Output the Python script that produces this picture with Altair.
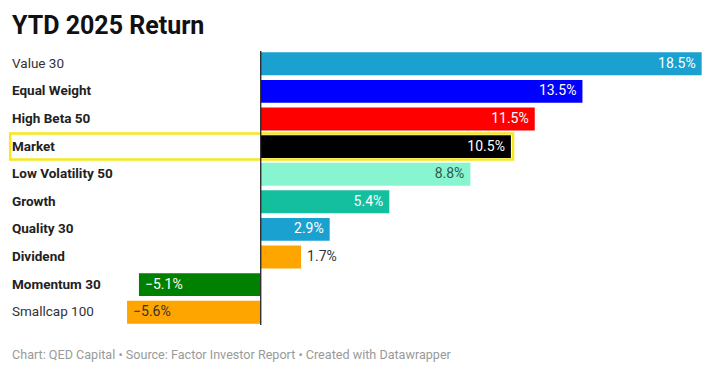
import altair as alt
import pandas as pd

names = ["Value 30", "Equal Weight", "High Beta 50", "Market", "Low Volatility 50",
         "Growth", "Quality 30", "Dividend", "Momentum 30", "Smallcap 100"]
values = [18.5, 13.5, 11.5, 10.5, 8.8, 5.4, 2.9, 1.7, -5.1, -5.6]
bold = [False, True, True, True, True, True, True, True, True, False]
bar_colors = ["#1aa1cf", "#0000ff", "#ff0000", "#000000", "#86f5d0",
              "#14bfa0", "#1aa1cf", "#ffa500", "#008000", "#ffa500"]
label_colors = ["#ffffff", "#ffffff", "#ffffff", "#ffffff", "#2f5a4e",
                "#ffffff", "#ffffff", "#333333", "#ffffff", "#333333"]
highlight = "Market"
title_text = "YTD 2025 Return"
footer_text = "Chart: QED Capital \u2022 Source: Factor Investor Report \u2022 Created with Datawrapper"

def fmt(v):
    s = f"{abs(v):.1f}%"
    return ("\u2212" + s) if v < 0 else s

df = pd.DataFrame({
    "name": names,
    "value": values,
    "bold": bold,
    "label": [fmt(v) for v in values],
})

W, H = 696, 276
FONT = "Roboto"

xscale = alt.Scale(domain=[-10.55, 18.64], nice=False)
yenc = alt.Y("name:N", sort=names, axis=None,
             scale=alt.Scale(paddingInner=0.17, paddingOuter=0.085))

base = alt.Chart(df)

bars = base.mark_bar().encode(
    x=alt.X("value:Q", scale=xscale, axis=None),
    y=yenc,
    color=alt.Color("name:N", scale=alt.Scale(domain=names, range=bar_colors), legend=None),
)

zero_rule = base.mark_rule(color="#333333", strokeWidth=1).encode(
    x=alt.datum(0),
    y=alt.value(1),
    y2=alt.value(H - 1),
)

hl = base.transform_filter(alt.datum.name == highlight).transform_calculate(
    left="-10.5", right="datum.value + 0.09"
).mark_bar(size=26, fill="transparent", stroke="#f8e71c", strokeWidth=2.5).encode(
    x=alt.X("left:Q", scale=xscale),
    x2="right:Q",
    y=yenc,
)

tcolor = alt.Color("name:N", scale=alt.Scale(domain=names, range=label_colors), legend=None)

inside = base.transform_filter(alt.datum.value >= 2).mark_text(
    align="right", baseline="middle", dx=-6, font=FONT, fontSize=14
).encode(x=alt.X("value:Q", scale=xscale), y=yenc, text="label:N", color=tcolor)

other = base.transform_filter(alt.datum.value < 2).mark_text(
    align="left", baseline="middle", dx=6, font=FONT, fontSize=14
).encode(x=alt.X("value:Q", scale=xscale), y=yenc, text="label:N", color=tcolor)

cat_bold = base.transform_filter(alt.datum.bold == True).mark_text(
    align="left", baseline="middle", font=FONT, fontSize=13.5, fontWeight="bold", color="#222222"
).encode(x=alt.value(3), y=yenc, text="name:N")

cat_norm = base.transform_filter(alt.datum.bold == False).mark_text(
    align="left", baseline="middle", font=FONT, fontSize=13.5, fontWeight="normal", color="#333333"
).encode(x=alt.value(3), y=yenc, text="name:N")

title = alt.Chart(pd.DataFrame({"t": [title_text]})).mark_text(
    align="left", baseline="alphabetic", font=FONT, fontSize=25, fontWeight="bold", color="#111111"
).encode(x=alt.value(3), y=alt.value(-16), text="t:N")

footer = alt.Chart(pd.DataFrame({"t": [footer_text]})).mark_text(
    align="left", baseline="alphabetic", font=FONT, fontSize=12.6, color="#9a9a9a"
).encode(x=alt.value(3), y=alt.value(309), text="t:N")

chart = alt.layer(
    bars, hl, zero_rule, inside, other, cat_bold, cat_norm, title, footer
).resolve_scale(color="independent").properties(
    width=W, height=H,
    autosize=alt.AutoSizeParams(type="none"),
    padding={"left": 1, "top": 42, "right": 2, "bottom": 40},
).configure_view(stroke=None)

chart.save("out.html", embed_options={"renderer": "svg", "actions": False})
